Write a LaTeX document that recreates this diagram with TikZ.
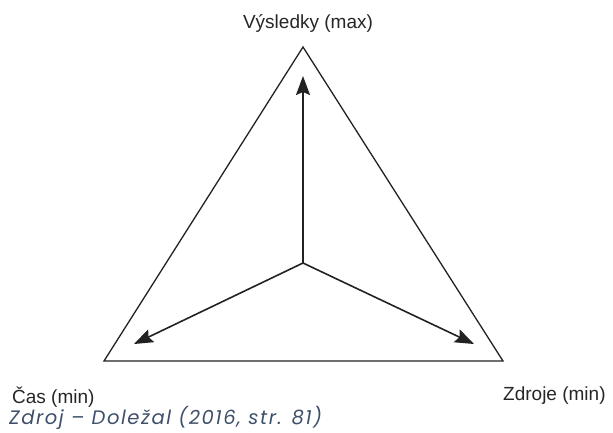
\documentclass[tikz,border=0pt]{standalone}
\usepackage{fontspec}
\setmainfont{Liberation Sans}
\newfontfamily\capfont[LetterSpace=8]{Poppins}
\usetikzlibrary{arrows.meta}
\definecolor{capcol}{HTML}{3E4F6A}
\definecolor{linecol}{HTML}{222222}
\tikzset{
  edge/.style={draw=linecol, line width=1.3pt, line join=miter},
  axis/.style={draw=linecol, line width=1.6pt, -{Stealth[length=19pt,width=14pt,inset=3pt]}},
  lbl/.style={font=\fontsize{19}{22}\selectfont, text=black!85, inner sep=0pt},
}
\begin{document}
\begin{tikzpicture}[x=1pt,y=-1pt]
\useasboundingbox (0,0) rectangle (613,432);
\coordinate (A) at (303,47);
\coordinate (L) at (104,361);
\coordinate (R) at (503,361);
\coordinate (C) at (303,263);
\coordinate (tu) at (303,76);
\coordinate (tl) at (134,344);
\coordinate (tr) at (474,344);
\draw[edge] (A) -- (L) -- (R) -- cycle;
\draw[axis] (C) -- (tu);
\draw[axis] (C) -- (tl);
\draw[axis] (C) -- (tr);
\node[lbl, anchor=base] (vys) at (308,28) {Výsledky (max)};
\node[lbl, anchor=base west] (cas) at (12,403) {Čas (min)};
\node[lbl, anchor=base west] (zdr) at (503,400) {Zdroje (min)};
\node[anchor=base west, inner sep=0pt, text=capcol, font=\capfont\itshape\fontsize{19.5}{23}\selectfont] (cap) at (9,424) {Zdroj – Doležal (2016, str. 81)};
\end{tikzpicture}
\end{document}
